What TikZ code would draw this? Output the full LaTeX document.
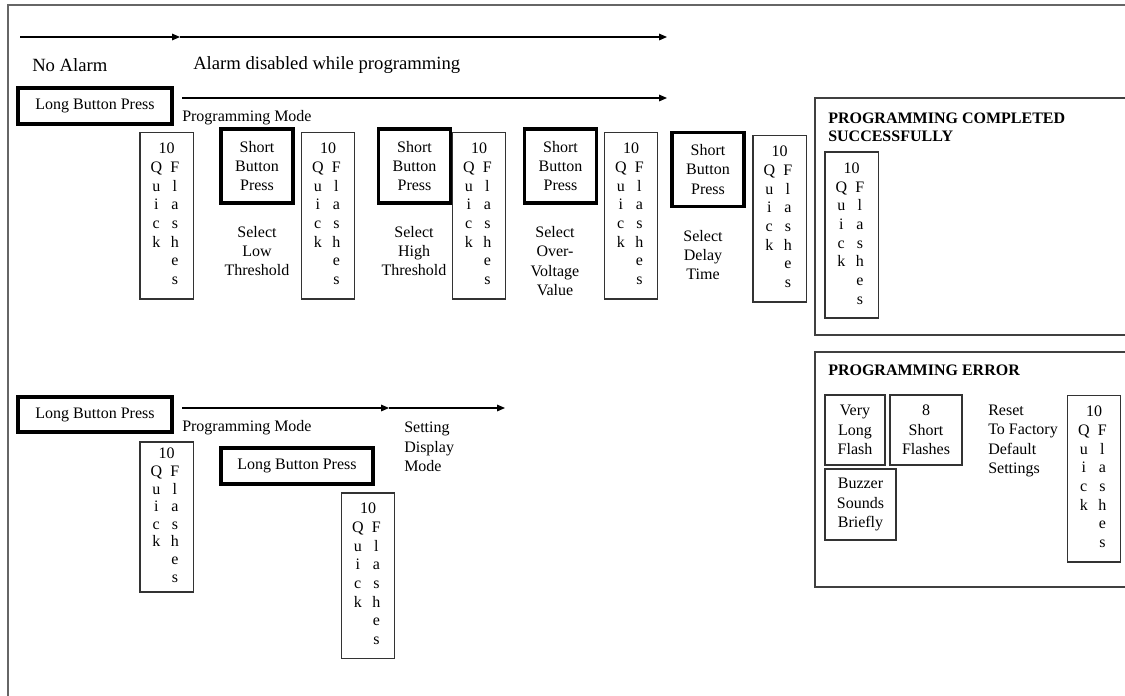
\documentclass[tikz,border=0pt]{standalone}
\usepackage{fontspec}
\setmainfont{Liberation Serif}
\usetikzlibrary{arrows.meta}

\newcommand{\quickflash}{\begin{tabular}{@{}c@{\hspace{4pt}}c@{}}\multicolumn{2}{c}{10}\\Q&F\\u&l\\i&a\\c&s\\k&h\\&e\\&s\end{tabular}}

\begin{document}
\begin{tikzpicture}[x=0.75pt,y=0.75pt,yscale=-1,xscale=1,
    press/.style={draw, line width=2.9pt, align=center, inner sep=0pt, font=\fontsize{12}{14.5}\selectfont},
    flash/.style={draw=black!80, line width=1pt, inner sep=0pt, minimum width=40pt, minimum height=125pt, font=\fontsize{12}{14}\selectfont},
    cell/.style={draw=black!80, line width=1pt, align=center, inner sep=0pt, font=\fontsize{12}{14.5}\selectfont},
    txt/.style={inner sep=0pt, align=center, font=\fontsize{12}{14.5}\selectfont},
    bigtxt/.style={inner sep=0pt, font=\fontsize{14}{16}\selectfont},
    heading/.style={inner sep=0pt, align=left, font=\fontsize{12}{13.5}\selectfont\bfseries},
    panel/.style={draw=black!75, line width=1pt},
    timeline/.style={line width=0.8pt, -{Triangle[length=6pt,width=5pt]}}]
            \useasboundingbox (0,0) rectangle (1125,696);

            %Shape: Frame
            \draw [draw=black!60, line width=1.6pt] (1125,5) -- (8,5) -- (8,696) ;

            % Alarm line
            \coordinate (alarmStart) at (20,37);
            \coordinate (alarmMid) at (180,37);
            \coordinate (alarmEnd) at (667,37);
            \draw [timeline] (alarmStart) -- (alarmMid) ;
            \draw [timeline] (alarmMid) -- (alarmEnd) ;
            % Text Node
            \draw (32,65) node (noAlarm) [bigtxt, anchor=west] {No Alarm};
            % Text Node
            \draw (193,65) node (alarmOff) [bigtxt, anchor=west] {Alarm disabled while programming};

            % Programming sequence
            \draw (95,106) node (longA) [press, minimum width=115.5pt, minimum height=27pt] {Long Button Press};
            \coordinate (progStart) at (182,98);
            \coordinate (progEnd) at (667,98);
            \draw [timeline] (progStart) -- (progEnd) ;
            % Text Node
            \draw (182,118) node (progMode) [txt, anchor=west] {Programming Mode};

            \draw (166.5,215.5) node (flashA) [flash] {\quickflash};
            \draw (257,166) node (shortA) [press, minimum width=54pt, minimum height=55.5pt] {Short\\Button\\Press};
            \draw (257,251) node (lowThr) [txt] {Select\\Low\\Threshold};
            \draw (328,215.5) node (flashB) [flash] {\quickflash};
            \draw (414.5,166) node (shortB) [press, minimum width=54pt, minimum height=55.5pt] {Short\\Button\\Press};
            \draw (414,251) node (highThr) [txt] {Select\\High\\Threshold};
            \draw (479,215.5) node (flashC) [flash] {\quickflash};
            \draw (560.5,166) node (shortC) [press, minimum width=54pt, minimum height=55.5pt] {Short\\Button\\Press};
            \draw (555,261) node (overVolt) [txt] {Select\\Over-\\Voltage\\Value};
            \draw (631,215.5) node (flashD) [flash] {\quickflash};
            \draw (708,169.5) node (shortD) [press, minimum width=54pt, minimum height=55.5pt] {Short\\Button\\Press};
            \draw (703,255) node (delay) [txt] {Select\\Delay\\Time};
            \draw (779.5,218.5) node (flashE) [flash] {\quickflash};

            %Shape: Success panel
            \draw [panel] (1125,98) -- (815,98) -- (815,335) -- (1125,335) ;
            \draw (828,127) node (okTitle) [heading, anchor=west] {PROGRAMMING COMPLETED\\SUCCESSFULLY};
            \draw (851.5,235) node (flashOk) [flash, minimum height=124.5pt] {\quickflash};

            %Shape: Error panel
            \draw [panel] (1125,352) -- (815,352) -- (815,587) -- (1125,587) ;
            \draw (828,370) node (errTitle) [heading, anchor=west] {PROGRAMMING ERROR};
            \draw (855,430) node (longFlash) [cell, minimum width=45pt, minimum height=52.5pt] {Very\\Long\\Flash};
            \draw (926,430) node (eightFlash) [cell, minimum width=54pt, minimum height=52.5pt] {8\\Short\\Flashes};
            \draw (860.5,504.5) node (buzzer) [cell, minimum width=53.25pt, minimum height=53.25pt] {Buzzer\\Sounds\\Briefly};
            \draw (988,441) node (reset) [txt, align=left, anchor=west] {Reset\\To Factory\\Default\\Settings};
            \draw (1094,478.5) node (flashErr) [flash] {\quickflash};

            % Display mode sequence
            \draw (95,414.5) node (longB) [press, minimum width=115.5pt, minimum height=26.25pt] {Long Button Press};
            \coordinate (dispStart) at (182,408);
            \coordinate (dispMid) at (389,408);
            \coordinate (dispEnd) at (505,408);
            \draw [timeline] (dispStart) -- (dispMid) ;
            \draw [timeline] (dispMid) -- (dispEnd) ;
            % Text Node
            \draw (182,428) node (progModeB) [txt, anchor=west] {Programming Mode};
            % Text Node
            \draw (404,447) node (dispMode) [txt, align=left, anchor=west] {Setting\\Display\\Mode};
            \draw (166.5,517) node (flashF) [flash, minimum height=112.5pt, font=\fontsize{12}{13.2}\selectfont] {\quickflash};
            \draw (297,466) node (longC) [press, minimum width=114pt, minimum height=27pt] {Long Button Press};
            \draw (368,575.5) node (flashG) [flash, minimum height=124pt] {\quickflash};

        \end{tikzpicture}
\end{document}
